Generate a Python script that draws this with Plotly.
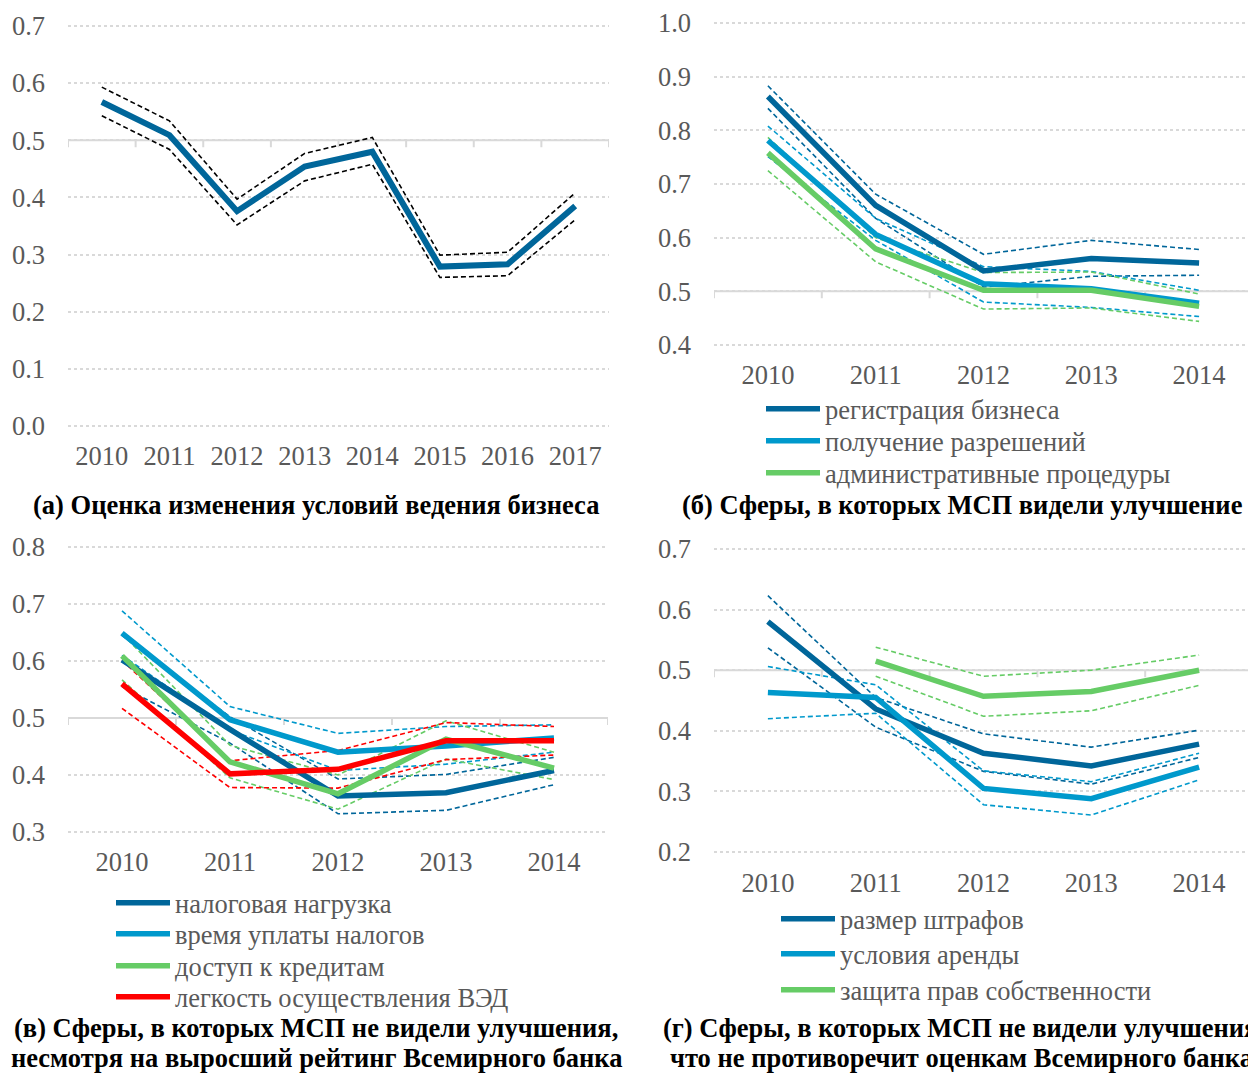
import plotly.graph_objects as go

# ---------------- data ----------------
years_a = [2010, 2011, 2012, 2013, 2014, 2015, 2016, 2017]
a_mean = [0.567, 0.509, 0.376, 0.454, 0.480, 0.279, 0.283, 0.385]
a_hi = [0.593, 0.534, 0.397, 0.477, 0.505, 0.299, 0.304, 0.408]
a_lo = [0.543, 0.484, 0.352, 0.429, 0.458, 0.260, 0.263, 0.361]

years = [2010, 2011, 2012, 2013, 2014]

# (б)
b_names = ["регистрация бизнеса", "получение разрешений", "административные процедуры"]
b_mean = [
    [0.863, 0.660, 0.538, 0.561, 0.553],
    [0.781, 0.606, 0.514, 0.505, 0.478],
    [0.758, 0.579, 0.502, 0.502, 0.472],
]
b_hi = [
    [0.883, 0.681, 0.569, 0.595, 0.578],
    [0.808, 0.636, 0.546, 0.537, 0.502],
    [0.787, 0.600, 0.535, 0.536, 0.495],
]
b_lo = [
    [0.841, 0.636, 0.508, 0.528, 0.530],
    [0.751, 0.595, 0.480, 0.470, 0.453],
    [0.725, 0.555, 0.467, 0.469, 0.444],
]

# (в)
c_names = ["налоговая нагрузка", "время уплаты налогов", "доступ к кредитам", "легкость осуществления ВЭД"]
c_mean = [
    [0.602, 0.480, 0.363, 0.369, 0.408],
    [0.649, 0.497, 0.440, 0.451, 0.465],
    [0.609, 0.423, 0.367, 0.463, 0.412],
    [0.560, 0.402, 0.410, 0.460, 0.460],
]
c_hi = [
    [0.645, 0.502, 0.393, 0.401, 0.431],
    [0.688, 0.520, 0.473, 0.485, 0.488],
    [0.648, 0.452, 0.400, 0.495, 0.440],
    [0.601, 0.425, 0.443, 0.492, 0.485],
]
c_lo = [
    [0.555, 0.456, 0.332, 0.338, 0.383],
    [0.610, 0.479, 0.408, 0.419, 0.440],
    [0.567, 0.395, 0.340, 0.428, 0.392],
    [0.517, 0.378, 0.377, 0.427, 0.435],
]

# (г)
d_names = ["размер штрафов", "условия аренды", "защита прав собственности"]
d_mean = [
    [0.580, 0.436, 0.363, 0.342, 0.378],
    [0.463, 0.455, 0.305, 0.288, 0.340],
    [None, 0.515, 0.457, 0.465, 0.500],
]
d_hi = [
    [0.623, 0.455, 0.395, 0.373, 0.401],
    [0.506, 0.476, 0.334, 0.316, 0.363],
    [None, 0.538, 0.490, 0.500, 0.525],
]
d_lo = [
    [0.537, 0.406, 0.333, 0.312, 0.356],
    [0.420, 0.429, 0.278, 0.261, 0.319],
    [None, 0.490, 0.424, 0.433, 0.475],
]

titles = [
    "(а) Оценка изменения условий ведения бизнеса",
    "(б) Сферы, в которых МСП видели улучшение",
    "(в) Сферы, в которых МСП не видели улучшения,",
    "несмотря на выросший рейтинг Всемирного банка",
    "(г) Сферы, в которых МСП не видели улучшения,",
    "что не противоречит оценкам Всемирного банка",
]

# ---------------- style ----------------
DARK = "#00669A"
LIGHT = "#0099CC"
GREEN = "#66CC66"
RED = "#FF0000"
GRID = "#D9D9D9"
TXT = "#595959"
FONT = "Liberation Serif, Times New Roman, serif"
FS = 26.5
W, H = 1248, 1073
MAIN_W = 5.5
DASH_W = 1.6
DASH = "5px,3px"

fig = go.Figure()


def px_x(p):
    return p / W


def px_y(p):
    return 1 - p / H


legend_counter = [0]
legend_ids = []


def next_legend():
    legend_counter[0] += 1
    lid = "legend" if legend_counter[0] == 1 else "legend%d" % legend_counter[0]
    legend_ids.append(lid)
    return lid


def add_group(xa, ya, names, means, his, los, colors):
    for hi, lo, c in zip(his, los, colors):
        for arr in (hi, lo):
            fig.add_trace(go.Scatter(x=years, y=arr, mode="lines", xaxis=xa, yaxis=ya,
                                     line=dict(color=c, width=DASH_W, dash=DASH),
                                     showlegend=False, hoverinfo="skip"))
    for n, m, c in zip(names, means, colors):
        fig.add_trace(go.Scatter(x=years, y=m, mode="lines", name=n, xaxis=xa, yaxis=ya,
                                 line=dict(color=c, width=MAIN_W), legend=next_legend()))


# (а)
for arr in (a_hi, a_lo):
    fig.add_trace(go.Scatter(x=years_a, y=arr, mode="lines", xaxis="x", yaxis="y",
                             line=dict(color="black", width=DASH_W, dash=DASH),
                             showlegend=False))
fig.add_trace(go.Scatter(x=years_a, y=a_mean, mode="lines", xaxis="x", yaxis="y",
                         line=dict(color=DARK, width=MAIN_W + 0.5), showlegend=False))

add_group("x2", "y2", b_names, b_mean, b_hi, b_lo, [DARK, LIGHT, GREEN])
add_group("x3", "y3", c_names, c_mean, c_hi, c_lo, [DARK, LIGHT, GREEN, RED])
add_group("x4", "y4", d_names, d_mean, d_hi, d_lo, [DARK, LIGHT, GREEN])

tickfont = dict(family=FONT, size=FS, color=TXT)

# panel geometry in pixels
panels = [
    ("", 68, 609, 26, 426, 0.0, 0.7, 2009.5, 2017.5),
    ("2", 714, 1253, 23, 345, 0.4, 1.0, 2009.5, 2014.5),
    ("3", 68, 608, 547, 832, 0.3, 0.8, 2009.5, 2014.5),
    ("4", 714, 1253, 549, 852, 0.2, 0.7, 2009.5, 2014.5),
]

shapes = []
for sfx, xl, xr, yt, yb, ymin, ymax, xmin, xmax in panels:
    pad = 0.01
    ppu = (yb - yt) / (ymax - ymin)
    top = yt - pad * ppu
    bot = yb + pad * ppu
    cpx = (xr - xl) / (xmax - xmin)
    xr_c = min(xr, W)
    xmax_c = xmin + (xr_c - xl) / cpx
    fig.layout["xaxis" + sfx] = dict(
        domain=[px_x(xl), px_x(xr_c)], range=[xmin, xmax_c], anchor="y" + sfx,
        tickmode="array", tickvals=list(range(2010, int(xmax) + 1)),
        showgrid=False, zeroline=False, showline=False, ticks="",
        tickfont=tickfont, ticklabelstandoff=6, fixedrange=True, automargin=False,
    )
    fig.layout["yaxis" + sfx] = dict(
        domain=[px_y(bot), px_y(top)], range=[ymin - pad, ymax + pad], anchor="x" + sfx,
        tickmode="linear", tick0=ymin, dtick=0.1, tickformat=".1f",
        showgrid=True, gridcolor=GRID, gridwidth=1.5, griddash="dot",
        zeroline=False, showline=False, ticks="", tickfont=tickfont,
        ticklabelstandoff=22, fixedrange=True, automargin=False,
    )
    # axis line crossing at 0.5 with tick marks at category boundaries
    shapes.append(dict(type="line", xref="x" + sfx + " domain", yref="y" + sfx,
                       x0=0, x1=1, y0=0.5, y1=0.5, line=dict(color=GRID, width=2), layer="below"))
    b = xmin
    while b <= xmax + 1e-9:
        shapes.append(dict(type="line", xref="x" + sfx, yref="y" + sfx, ysizemode="pixel",
                           yanchor=0.5, x0=b, x1=b, y0=0, y1=-7,
                           line=dict(color=GRID, width=2), layer="below"))
        b += 1

# one single-row legend per entry, positioned like the reference rows
legend_rows = [
    (768, 409), (768, 441), (768, 473),
    (118, 903), (118, 934), (118, 966), (118, 997),
    (783, 919), (783, 954), (783, 990),
]
legend_font = dict(family=FONT, size=FS, color=TXT)
leg_layout = {}
for lid, (lx, ly) in zip(legend_ids, legend_rows):
    leg_layout[lid] = dict(x=px_x(lx - 7), y=px_y(ly), xanchor="left", yanchor="middle",
                           bgcolor="rgba(0,0,0,0)", font=legend_font, itemwidth=54,
                           itemclick=False, itemdoubleclick=False)
fig.update_layout(**leg_layout)

ann = []
tfont = dict(family=FONT, size=FS, color="black")
title_pos = [
    (316, 505, "center"),
    (680, 505, "left"),
    (316, 1028, "center"),
    (316, 1058, "center"),
    (661, 1028, "left"),
    (668, 1058, "left"),
]
for t, (tx, ty, anc) in zip(titles, title_pos):
    ann.append(dict(text="<b>" + t + "</b>", x=px_x(tx), y=px_y(ty), xref="paper", yref="paper",
                    xanchor=anc, yanchor="middle", showarrow=False, font=tfont))

fig.update_layout(
    width=W, height=H, autosize=False,
    margin=dict(l=0, r=0, t=0, b=0, pad=0, autoexpand=False),
    paper_bgcolor="white", plot_bgcolor="white",
    shapes=shapes, annotations=ann,
    font=dict(family=FONT, color=TXT, size=FS),
    hovermode=False,
)

fig.write_html("out.html",
               config={"displayModeBar": False},
               post_script="document.body.style.margin='0px';document.body.style.overflow='hidden';")
